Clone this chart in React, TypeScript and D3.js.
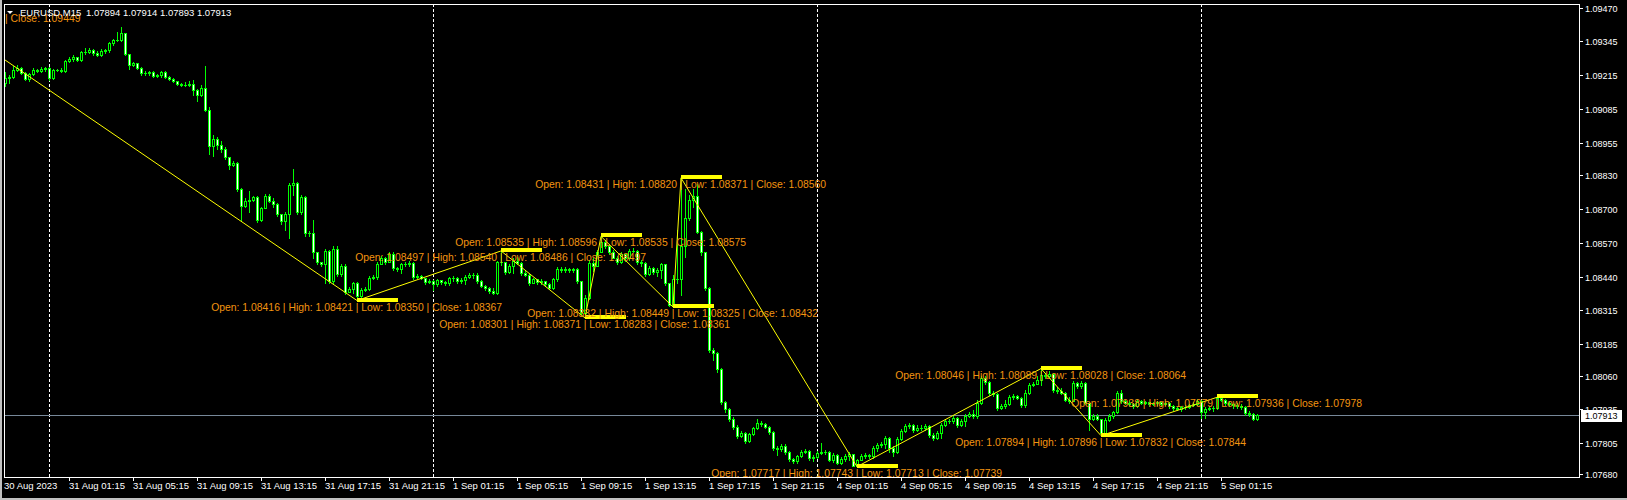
import React, { useEffect } from 'react';
import * as d3 from 'd3';

// ---------- DATA (EURUSD M15) ----------
const symbolTitle = 'EURUSD,M15';
const headerOHLC = [1.07894, 1.07914, 1.07893, 1.07913];
const firstOpen = 1.09184;

const closes = [
  1.09203,1.09207,1.09233,1.09241,1.09222,1.09199,1.09218,1.09233,1.09230,1.09237,
  1.09241,1.09203,1.09233,1.09233,1.09230,1.09268,1.09276,1.09283,1.09272,1.09303,
  1.09303,1.09310,1.09299,1.09291,1.09307,1.09310,1.09337,1.09349,1.09349,1.09376,
  1.09295,1.09253,1.09260,1.09241,1.09222,1.09222,1.09226,1.09210,1.09214,1.09226,
  1.09207,1.09199,1.09191,1.09180,1.09176,1.09176,1.09180,1.09157,1.09137,1.09164,
  1.09080,1.08941,1.08968,1.08945,1.08930,1.08899,1.08868,1.08876,1.08776,1.08714,
  1.08733,1.08737,1.08745,1.08657,1.08703,1.08749,1.08733,1.08718,1.08680,1.08653,
  1.08683,1.08791,1.08799,1.08691,1.08745,1.08607,1.08610,1.08537,1.08499,1.08491,
  1.08541,1.08426,1.08549,1.08453,1.08484,1.08384,1.08395,1.08416,1.08367,1.08391,
  1.08395,1.08438,1.08441,1.08491,1.08511,1.08499,1.08530,1.08476,1.08472,1.08488,
  1.08491,1.08495,1.08441,1.08445,1.08438,1.08422,1.08426,1.08414,1.08430,1.08422,
  1.08418,1.08438,1.08438,1.08426,1.08430,1.08441,1.08449,1.08449,1.08426,1.08407,
  1.08399,1.08388,1.08380,1.08497,1.08497,1.08461,1.08484,1.08503,1.08495,1.08457,
  1.08449,1.08418,1.08434,1.08422,1.08426,1.08414,1.08399,1.08434,1.08472,1.08468,
  1.08472,1.08468,1.08472,1.08426,1.08301,1.08361,1.08495,1.08484,1.08535,1.08575,
  1.08560,1.08537,1.08514,1.08499,1.08530,1.08511,1.08541,1.08541,1.08499,1.08495,
  1.08453,1.08476,1.08461,1.08468,1.08488,1.08418,1.08332,1.08432,1.08431,1.08560,
  1.08668,1.08737,1.08749,1.08614,1.08534,1.08399,1.08160,1.08149,1.08087,1.07960,
  1.07933,1.07895,1.07864,1.07830,1.07841,1.07810,1.07837,1.07860,1.07880,1.07876,
  1.07864,1.07845,1.07784,1.07780,1.07791,1.07768,1.07741,1.07733,1.07753,1.07768,
  1.07772,1.07745,1.07749,1.07764,1.07768,1.07768,1.07737,1.07757,1.07726,1.07741,
  1.07753,1.07760,1.07717,1.07739,1.07753,1.07757,1.07753,1.07784,1.07795,1.07799,
  1.07822,1.07784,1.07768,1.07818,1.07849,1.07868,1.07872,1.07853,1.07860,1.07860,
  1.07868,1.07833,1.07822,1.07841,1.07872,1.07887,1.07887,1.07899,1.07872,1.07887,
  1.07907,1.07914,1.07907,1.07957,1.08053,1.08038,1.07995,1.07991,1.07937,1.07945,
  1.07953,1.07980,1.07983,1.07976,1.07949,1.07995,1.08026,1.08030,1.08046,1.08064,
  1.08060,1.08068,1.08007,1.08003,1.07995,1.07968,1.07964,1.08034,1.08022,1.08034,
  1.07957,1.07895,1.07907,1.07894,1.07844,1.07891,1.07907,1.07922,1.07995,1.07964,
  1.07957,1.07953,1.07945,1.07964,1.07957,1.07960,1.07953,1.07957,1.07960,1.07953,
  1.07957,1.07945,1.07937,1.07933,1.07941,1.07941,1.07949,1.07953,1.07964,1.07922,
  1.07933,1.07937,1.07938,1.07978,1.07968,1.07957,1.07953,1.07949,1.07945,1.07941,
  1.07918,1.07914,1.07894,1.07913,
];

const highs = [
  1.09226,1.09214,1.09249,1.09253,1.09245,1.09226,1.09222,1.09241,1.09237,1.09245,
  1.09245,1.09245,1.09237,1.09237,1.09241,1.09272,1.09283,1.09291,1.09283,1.09307,
  1.09318,1.09318,1.09314,1.09307,1.09314,1.09314,1.09341,1.09353,1.09380,1.09399,
  1.09376,1.09295,1.09264,1.09260,1.09245,1.09230,1.09230,1.09230,1.09218,1.09230,
  1.09230,1.09210,1.09203,1.09191,1.09184,1.09187,1.09191,1.09195,1.09160,1.09176,
  1.09249,1.09091,1.08983,1.08976,1.08960,1.08937,1.08899,1.08883,1.08880,1.08780,
  1.08741,1.08768,1.08749,1.08749,1.08710,1.08757,1.08757,1.08741,1.08722,1.08683,
  1.08691,1.08799,1.08853,1.08803,1.08753,1.08749,1.08618,1.08660,1.08537,1.08499,
  1.08549,1.08545,1.08557,1.08557,1.08491,1.08488,1.08403,1.08422,1.08421,1.08399,
  1.08403,1.08445,1.08449,1.08499,1.08522,1.08518,1.08536,1.08535,1.08480,1.08495,
  1.08499,1.08503,1.08499,1.08453,1.08449,1.08438,1.08434,1.08430,1.08434,1.08430,
  1.08426,1.08441,1.08445,1.08441,1.08438,1.08449,1.08457,1.08457,1.08457,1.08430,
  1.08411,1.08403,1.08399,1.08503,1.08540,1.08499,1.08491,1.08511,1.08518,1.08499,
  1.08464,1.08453,1.08438,1.08434,1.08434,1.08426,1.08418,1.08438,1.08480,1.08480,
  1.08480,1.08476,1.08476,1.08476,1.08426,1.08371,1.08507,1.08511,1.08545,1.08596,
  1.08580,1.08568,1.08545,1.08522,1.08537,1.08530,1.08549,1.08553,1.08545,1.08507,
  1.08499,1.08484,1.08480,1.08476,1.08495,1.08491,1.08418,1.08449,1.08622,1.08820,
  1.08776,1.08753,1.08776,1.08795,1.08618,1.08537,1.08403,1.08168,1.08153,1.08091,
  1.07964,1.07937,1.07903,1.07872,1.07849,1.07845,1.07841,1.07864,1.07895,1.07887,
  1.07880,1.07868,1.07849,1.07791,1.07799,1.07799,1.07772,1.07745,1.07757,1.07776,
  1.07780,1.07776,1.07757,1.07772,1.07803,1.07776,1.07772,1.07764,1.07760,1.07749,
  1.07760,1.07768,1.07760,1.07743,1.07760,1.07764,1.07760,1.07791,1.07803,1.07807,
  1.07830,1.07826,1.07791,1.07826,1.07857,1.07876,1.07880,1.07876,1.07872,1.07872,
  1.07876,1.07872,1.07841,1.07849,1.07880,1.07895,1.07895,1.07907,1.07903,1.07895,
  1.07914,1.07922,1.07930,1.07968,1.08060,1.08060,1.08041,1.08003,1.07995,1.07953,
  1.07968,1.07987,1.07991,1.07987,1.07980,1.08007,1.08034,1.08038,1.08060,1.08089,
  1.08072,1.08080,1.08072,1.08018,1.08014,1.07999,1.07980,1.08041,1.08038,1.08041,
  1.08038,1.07960,1.07914,1.07914,1.07896,1.07899,1.07914,1.07926,1.08003,1.08007,
  1.07968,1.07964,1.07957,1.07972,1.07968,1.07964,1.07960,1.07960,1.07964,1.07960,
  1.07964,1.07960,1.07949,1.07941,1.07945,1.07949,1.07953,1.07960,1.07972,1.07968,
  1.07941,1.07945,1.07945,1.07979,1.07975,1.07972,1.07964,1.07957,1.07957,1.07953,
  1.07945,1.07926,1.07918,1.07914,
];

const lows = [
  1.09172,1.09184,1.09203,1.09230,1.09218,1.09195,1.09191,1.09214,1.09226,1.09226,
  1.09230,1.09195,1.09199,1.09230,1.09226,1.09226,1.09264,1.09268,1.09268,1.09268,
  1.09295,1.09299,1.09291,1.09287,1.09287,1.09299,1.09303,1.09330,1.09345,1.09345,
  1.09291,1.09237,1.09249,1.09237,1.09214,1.09214,1.09214,1.09207,1.09207,1.09207,
  1.09203,1.09195,1.09187,1.09176,1.09172,1.09172,1.09172,1.09137,1.09114,1.09133,
  1.09076,1.08910,1.08903,1.08930,1.08918,1.08891,1.08853,1.08864,1.08768,1.08653,
  1.08710,1.08691,1.08733,1.08649,1.08653,1.08703,1.08726,1.08710,1.08672,1.08645,
  1.08622,1.08591,1.08753,1.08683,1.08683,1.08599,1.08599,1.08514,1.08491,1.08484,
  1.08418,1.08418,1.08418,1.08445,1.08445,1.08376,1.08384,1.08380,1.08350,1.08365,
  1.08388,1.08391,1.08434,1.08434,1.08488,1.08491,1.08499,1.08468,1.08464,1.08457,
  1.08484,1.08484,1.08434,1.08438,1.08434,1.08414,1.08418,1.08391,1.08407,1.08414,
  1.08411,1.08411,1.08426,1.08418,1.08418,1.08414,1.08438,1.08438,1.08418,1.08403,
  1.08391,1.08380,1.08376,1.08376,1.08486,1.08453,1.08457,1.08457,1.08491,1.08449,
  1.08445,1.08411,1.08418,1.08414,1.08414,1.08407,1.08395,1.08395,1.08426,1.08461,
  1.08461,1.08461,1.08461,1.08418,1.08299,1.08283,1.08357,1.08464,1.08484,1.08535,
  1.08553,1.08530,1.08511,1.08491,1.08495,1.08503,1.08507,1.08534,1.08491,1.08484,
  1.08445,1.08449,1.08453,1.08445,1.08438,1.08411,1.08330,1.08325,1.08418,1.08371,
  1.08518,1.08660,1.08707,1.08610,1.08526,1.08391,1.08153,1.08122,1.08076,1.07953,
  1.07922,1.07887,1.07857,1.07822,1.07826,1.07803,1.07807,1.07833,1.07857,1.07868,
  1.07860,1.07837,1.07776,1.07757,1.07772,1.07760,1.07733,1.07726,1.07726,1.07749,
  1.07764,1.07737,1.07733,1.07745,1.07760,1.07760,1.07733,1.07730,1.07722,1.07722,
  1.07733,1.07737,1.07714,1.07713,1.07737,1.07745,1.07745,1.07745,1.07772,1.07787,
  1.07784,1.07768,1.07753,1.07764,1.07814,1.07845,1.07860,1.07845,1.07849,1.07853,
  1.07853,1.07826,1.07814,1.07818,1.07822,1.07868,1.07880,1.07880,1.07864,1.07868,
  1.07868,1.07903,1.07899,1.07899,1.07953,1.08030,1.07987,1.07983,1.07930,1.07933,
  1.07937,1.07949,1.07972,1.07972,1.07941,1.07941,1.07991,1.08022,1.08030,1.08028,
  1.08053,1.08053,1.07999,1.07995,1.07991,1.07964,1.07957,1.07964,1.08014,1.08014,
  1.07953,1.07853,1.07891,1.07891,1.07832,1.07840,1.07887,1.07899,1.07918,1.07957,
  1.07953,1.07945,1.07937,1.07941,1.07953,1.07953,1.07945,1.07949,1.07949,1.07945,
  1.07949,1.07937,1.07930,1.07930,1.07926,1.07933,1.07937,1.07945,1.07949,1.07899,
  1.07899,1.07930,1.07926,1.07936,1.07964,1.07949,1.07945,1.07937,1.07937,1.07933,
  1.07910,1.07907,1.07891,1.07893,
];

// ZigZag pivots (bar index + which extreme)
const zigStartPrice = 1.09272;
const pivotIndex = [88, 124, 145, 149, 167, 169, 213, 259, 274, 303];
const pivotType = ['low', 'high', 'low', 'high', 'low', 'high', 'low', 'high', 'low', 'high'];
const offscreenLabelTail = '| Close: 1.09449';

const priceTicks = [1.0947, 1.09345, 1.09215, 1.09085, 1.08955, 1.0883, 1.087, 1.0857, 1.0844, 1.08315, 1.08185, 1.0806, 1.07935, 1.07805, 1.0768];
const timeLabels = [
  '30 Aug 2023', '31 Aug 01:15', '31 Aug 05:15', '31 Aug 09:15', '31 Aug 13:15', '31 Aug 17:15', '31 Aug 21:15',
  '1 Sep 01:15', '1 Sep 05:15', '1 Sep 09:15', '1 Sep 13:15', '1 Sep 17:15', '1 Sep 21:15',
  '4 Sep 01:15', '4 Sep 05:15', '4 Sep 09:15', '4 Sep 13:15', '4 Sep 17:15', '4 Sep 21:15', '5 Sep 01:15',
];
const timeLabelStep = 16;
const daySeparatorIndex = [11, 107, 203, 299];

// ---------- STYLE ----------
const FONT = '"Liberation Sans", Arial, sans-serif';
const LIME = '#00FF00';
const YELLOW = '#FFFF00';
const ORANGE = '#F29410';
const LABEL_SIZE = 10.4;

export default function App() {
  useEffect(() => {
    document.body.style.margin = '0';
    document.body.style.background = '#000';
  }, []);

  const W = 1627;
  const H = 500;
  const left = 4, top = 4, right = 1579, bottom = 477;
  const n = closes.length;
  const opens = closes.map((_, i) => (i === 0 ? firstOpen : closes[i - 1]));

  const x = d3.scaleLinear().domain([0, n - 1]).range([5, 5 + 4 * (n - 1)]);
  const y = d3.scaleLinear().domain([1.0768, 1.0947]).range([475.3, 8.3]);

  const fmt = (v: number) => v.toFixed(5);

  // zigzag points
  const zig: [number, number][] = [[x(0), y(zigStartPrice)]];
  pivotIndex.forEach((pi, k) => {
    const p = pivotType[k] === 'low' ? lows[pi] : highs[pi];
    zig.push([x(pi), y(p)]);
  });
  const zigPath = d3.line()(zig) || '';

  const lastClose = headerOHLC[3];
  const yCur = Math.round(y(lastClose));

  return (
    <svg width={W} height={H} style={{ display: 'block', background: '#000' }} fontFamily={FONT}>
      <defs>
        <clipPath id="plot">
          <rect x={left + 1} y={top + 1} width={right - left - 1} height={bottom - top - 1} />
        </clipPath>
        <clipPath id="abovebox">
          <rect x={right + 1} y={0} width={W - right} height={yCur - 5} />
        </clipPath>
      </defs>
      <rect x={0} y={0} width={W} height={H} fill="#000" />
      <rect x={0} y={0} width={2} height={H} fill="#C0C0C0" />
      <rect x={0} y={498} width={W} height={2} fill="#C0C0C0" />

      <g clipPath="url(#plot)">
        {/* day separators */}
        {daySeparatorIndex.map((di) => (
          <line key={'d' + di} x1={x(di) + 0.5} x2={x(di) + 0.5} y1={top} y2={bottom}
            stroke="#FFFFFF" strokeDasharray="3,2" strokeWidth={1} />
        ))}
        {/* current price line */}
        <line x1={left} x2={right} y1={yCur + 0.5} y2={yCur + 0.5} stroke="#778899" strokeWidth={1} />

        {/* candles */}
        {closes.map((c, i) => {
          const o = opens[i];
          const cx = Math.round(x(i));
          const yo = Math.round(y(o));
          const yc = Math.round(y(c));
          const yh = Math.round(y(highs[i]));
          const yl = Math.round(y(lows[i]));
          const t = Math.min(yo, yc);
          const b = Math.max(yo, yc);
          const bull = c >= o;
          return (
            <g key={i}>
              <line x1={cx + 0.5} x2={cx + 0.5} y1={yh} y2={yl + 1} stroke={LIME} strokeWidth={1} />
              {b - t >= 1 ? (
                <rect x={cx - 0.5} y={t + 0.5} width={2} height={b - t}
                  fill={bull ? '#000' : '#FFF'} stroke={LIME} strokeWidth={1} />
              ) : (
                <line x1={cx - 1} x2={cx + 2} y1={t + 0.5} y2={t + 0.5} stroke={LIME} strokeWidth={1} />
              )}
            </g>
          );
        })}

        {/* zigzag */}
        <path d={zigPath} fill="none" stroke={YELLOW} strokeWidth={1} />

        {/* pivot markers and labels */}
        {pivotIndex.map((pi, k) => {
          const px = Math.round(x(pi));
          const p = pivotType[k] === 'low' ? lows[pi] : highs[pi];
          const yp = y(p);
          const leftTxt = `Open: ${fmt(opens[pi])} | High: ${fmt(highs[pi])} `;
          const rightTxt = `| Low: ${fmt(lows[pi])} | Close: ${fmt(closes[pi])}`;
          return (
            <g key={'p' + pi}>
              <rect x={px} y={Math.round(yp) - 3} width={41} height={4} fill={YELLOW} />
              <text x={px - 1} y={yp + 10} fontSize={LABEL_SIZE} fill={ORANGE} textAnchor="end" style={{ whiteSpace: 'pre' }}>{leftTxt}</text>
              <text x={px - 1.3} y={yp + 10} fontSize={LABEL_SIZE} fill={ORANGE} style={{ whiteSpace: 'pre' }}>{rightTxt}</text>
            </g>
          );
        })}
        <text x={5} y={22} fontSize={LABEL_SIZE} fill={ORANGE} style={{ whiteSpace: 'pre' }}>{offscreenLabelTail}</text>
      </g>

      {/* header */}
      <polygon points="7,11 13,11 10,14" fill="#FFFFFF" />
      <text x={20} y={16} fontSize={9.5} fill="#FFFFFF">{symbolTitle}</text>
      <text x={86} y={16} fontSize={9.5} fill="#FFFFFF" style={{ whiteSpace: 'pre' }}>{headerOHLC.map(fmt).join(' ')}</text>

      {/* frame */}
      <rect x={left + 0.5} y={top + 0.5} width={right - left} height={bottom - top} fill="none" stroke="#FFFFFF" strokeWidth={1} />

      {/* price axis */}
      {priceTicks.map((v, k) => {
        const ty = Math.min(Math.round(y(v)), 474);
        const hidden = Math.abs(ty - yCur) < 8;
        return (
          <g key={'t' + k} clipPath={hidden ? 'url(#abovebox)' : undefined}>
            <line x1={right + 1} x2={right + 4} y1={ty + 0.5} y2={ty + 0.5} stroke="#FFFFFF" strokeWidth={1} />
            <text x={1585} y={ty + 3.5} fontSize={9} fill="#FFFFFF">{fmt(v)}</text>
          </g>
        );
      })}
      <rect x={1581} y={yCur - 5} width={41} height={12} fill="#FFFFFF" />
      <text x={1585} y={yCur + 4} fontSize={9} fill="#000000">{fmt(lastClose)}</text>

      {/* time axis */}
      {timeLabels.map((lab, k) => {
        const tx = Math.round(x(k * timeLabelStep));
        return (
          <g key={'x' + k}>
            {k > 0 && <line x1={tx + 0.5} x2={tx + 0.5} y1={bottom + 1} y2={bottom + 4} stroke="#FFFFFF" strokeWidth={1} />}
            <text x={k === 0 ? 4 : tx} y={489} fontSize={9.5} fill="#FFFFFF">{lab}</text>
          </g>
        );
      })}
    </svg>
  );
}
